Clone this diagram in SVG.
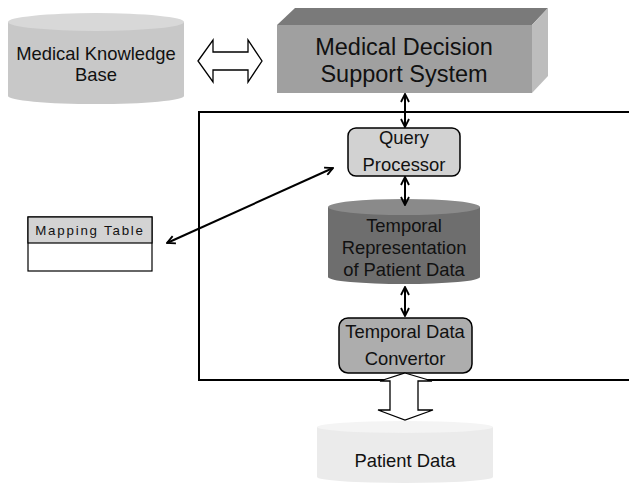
<svg xmlns="http://www.w3.org/2000/svg" width="629" height="486" viewBox="0 0 629 486">
<style>
text{font-family:"Liberation Sans",Arial,sans-serif;fill:#111;text-anchor:middle}
.t17{font-size:18.4px}
.t22{font-size:23.5px}
.ln{stroke:#000;stroke-width:2;fill:none}
</style>
<defs>
<marker id="ah" viewBox="0 0 10 10" refX="9" refY="5" markerWidth="10" markerHeight="10" markerUnits="userSpaceOnUse" orient="auto-start-reverse">
<path d="M1,1 L9,5 L1,9" fill="none" stroke="#000" stroke-width="1.8"/>
</marker>
</defs>
<rect width="629" height="486" fill="#fff"/>
<!-- container -->
<path d="M629,112 H199 V380 H629" fill="none" stroke="#000" stroke-width="2"/>
<g id="mkb">
<path d="M8,22 V96 A88,8 0 0 0 184,96 V22 Z" fill="#c8c8c8"/>
<ellipse cx="96" cy="22" rx="88" ry="9" fill="#d8d8d8"/>
<text class="t17" x="96" y="60">Medical Knowledge</text>
<text class="t17" x="96" y="81">Base</text>
</g>
<g id="biarrow">
<path d="M198,61 L213,40 V52 H248 V40 L262,61 L248,82 V70 H213 V82 Z" fill="#fff" stroke="#000" stroke-width="1.3"/>
</g>
<g id="mdss">
<path d="M277,25 L295,8 H548 L532,25 Z" fill="#7a7a7a"/>
<path d="M532,25 L548,8 V76 L532,93 Z" fill="#bdbdbd"/>
<rect x="277" y="25" width="255" height="68" fill="#a0a0a0"/>
<text class="t22" x="404" y="55">Medical Decision</text>
<text class="t22" x="404" y="82">Support System</text>
</g>
<g id="qp">
<rect x="348" y="128" width="112" height="48" rx="8" fill="#d2d2d2" stroke="#000" stroke-width="1.5"/>
<text class="t17" x="404" y="144">Query</text>
<text class="t17" x="404" y="171">Processor</text>
</g>
<g id="trpd">
<path d="M328,207 V277 A76,7 0 0 0 480,277 V207 Z" fill="#6e6e6e"/>
<ellipse cx="404" cy="207" rx="76" ry="8" fill="#8a8a8a"/>
<text class="t17" x="404" y="232">Temporal</text>
<text class="t17" x="404" y="254">Representation</text>
<text class="t17" x="404" y="276">of Patient Data</text>
</g>
<g id="tdc">
<rect x="339" y="318" width="133" height="55" rx="9" fill="#adadad" stroke="#000" stroke-width="1.5"/>
<text class="t17" x="405" y="338">Temporal Data</text>
<text class="t17" x="405" y="365">Convertor</text>
</g>
<g id="blockarrow">
<path d="M405,373 L432,381 H418 V410 H433 L405,420 L378,410 H390 V381 H380 Z" fill="#fff" stroke="#000" stroke-width="1.3"/>
</g>
<g id="pd">
<path d="M317,427 V477 A88,6 0 0 0 493,477 V427 Z" fill="#ebebeb"/>
<ellipse cx="405" cy="427" rx="88" ry="6" fill="#f4f4f4"/>
<text class="t17" x="405" y="467">Patient Data</text>
</g>
<g id="mt">
<rect x="28" y="217" width="124" height="54" fill="#fff" stroke="#000" stroke-width="1.2"/>
<rect x="28" y="217" width="124" height="26" fill="#d3d3d3" stroke="#000" stroke-width="1.2"/>
<text x="90" y="235" style="font-size:13.3px;letter-spacing:1.8px">Mapping Table</text>
</g>
<g id="connectors">
<line class="ln" x1="405" y1="94" x2="405" y2="127" marker-start="url(#ah)" marker-end="url(#ah)"/>
<line class="ln" x1="405" y1="177" x2="405" y2="205" marker-start="url(#ah)" marker-end="url(#ah)"/>
<line class="ln" x1="405" y1="287" x2="405" y2="316" marker-start="url(#ah)" marker-end="url(#ah)"/>
<line class="ln" x1="333" y1="168" x2="167" y2="243" marker-start="url(#ah)" marker-end="url(#ah)"/>
</g>
</svg>
